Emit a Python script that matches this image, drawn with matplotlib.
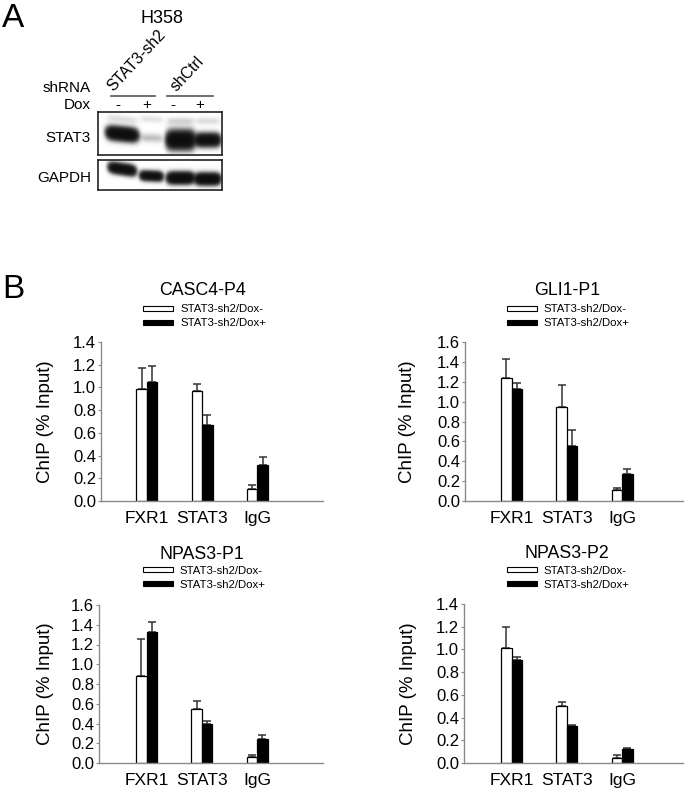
import numpy as np
import matplotlib
matplotlib.use('Agg')
import matplotlib.pyplot as plt
import matplotlib.transforms as mtransforms
from matplotlib.patches import Patch
from matplotlib.lines import Line2D

plt.rcParams['font.family'] = ['Liberation Sans', 'DejaVu Sans']

# ---------------- data ----------------
cell_line = 'H358'
shrna_groups = ['STAT3-sh2', 'shCtrl']
dox_states = ['-', '+', '-', '+']
blot_rows = ['STAT3', 'GAPDH']
stat3_band = [1.0, 0.06, 1.0, 0.85]
stat3_upper_band = [0.03, 0.025, 0.04, 0.03]
gapdh_band = [0.9, 0.8, 1.0, 1.0]

categories = ['FXR1', 'STAT3', 'IgG']
series_names = ['STAT3-sh2/Dox-', 'STAT3-sh2/Dox+']

casc4_minus = [0.99, 0.97, 0.105]
casc4_minus_err = [0.18, 0.06, 0.035]
casc4_plus = [1.05, 0.67, 0.32]
casc4_plus_err = [0.14, 0.09, 0.07]

gli1_minus = [1.24, 0.95, 0.114]
gli1_minus_err = [0.19, 0.22, 0.013]
gli1_plus = [1.13, 0.55, 0.27]
gli1_plus_err = [0.06, 0.16, 0.05]

npas3p1_minus = [0.876, 0.55, 0.06]
npas3p1_minus_err = [0.38, 0.08, 0.017]
npas3p1_plus = [1.33, 0.40, 0.24]
npas3p1_plus_err = [0.10, 0.03, 0.04]

npas3p2_minus = [1.01, 0.50, 0.04]
npas3p2_minus_err = [0.19, 0.04, 0.027]
npas3p2_plus = [0.91, 0.33, 0.126]
npas3p2_plus_err = [0.02, 0.005, 0.004]

# ---------------- figure ----------------
W, H = 690, 800
fig = plt.figure(figsize=(W / 100, H / 100), dpi=100)


def fx(x):
    return x / W


def fy(y):
    return 1 - y / H


def ax_px(x0, y0, x1, y1):
    return fig.add_axes([fx(x0), fy(y1), (x1 - x0) / W, (y1 - y0) / H])


# ---------------- panel A ----------------
fig.text(fx(13.5), fy(27), 'A', fontsize=24, ha='center', va='baseline')
fig.text(fx(162), fy(23), cell_line, fontsize=13, ha='center', va='baseline')
fig.text(fx(91), fy(92.3), 'shRNA', fontsize=11, ha='right', va='baseline')
fig.text(fx(91), fy(109.3), 'Dox', fontsize=11, ha='right', va='baseline')

group_spans = [(111, 155), (167, 213)]
group_label_pos = [(113, 92), (177, 92)]
for name, (a, b), (lx, ly) in zip(shrna_groups, group_spans, group_label_pos):
    fig.add_artist(Line2D([fx(a), fx(b)], [fy(95.7), fy(95.7)], transform=fig.transFigure,
                          color='#555555', lw=1.2))
    fig.text(fx(lx), fy(ly), name, fontsize=11.3, rotation=47, rotation_mode='anchor',
             ha='left', va='baseline')

sign_x = [118, 147, 173, 200]
for s, x in zip(dox_states, sign_x):
    fig.text(fx(x), fy(109.3), s, fontsize=11, ha='center', va='baseline')

lane_x = [122, 151, 180, 207]


def blot(box, bands, yc, hw, sig, tilt):
    x0, y0, x1, y1 = box
    ax = ax_px(x0, y0, x1, y1)
    xs = np.linspace(x0, x1, int((x1 - x0) * 4))
    ys = np.linspace(y0, y1, int((y1 - y0) * 4))
    X, Y = np.meshgrid(xs, ys)
    D = np.zeros_like(X)
    for band_set, ycs, sgs in zip(bands, yc, sig):
        for I, xc, y, w, s, t in zip(band_set, lane_x, ycs, hw, sgs, tilt):
            yy = y + t * (X - xc)
            horiz = np.exp(-np.abs((X - xc) / w) ** 5)
            vert = np.exp(-0.5 * ((Y - yy) / s) ** 2)
            D += I * horiz * vert
    img = 1 - np.exp(-5 * D)
    ax.imshow(img, cmap='gray_r', vmin=0, vmax=1.05, extent=(x0, x1, y1, y0),
              aspect='auto', interpolation='bilinear')
    ax.set_xlim(x0, x1)
    ax.set_ylim(y1, y0)
    ax.set_xticks([])
    ax.set_yticks([])
    for sp in ax.spines.values():
        sp.set_linewidth(1.2)
        sp.set_color('#222222')
    return ax


blot((98, 112, 222, 155),
     [stat3_band, stat3_upper_band],
     [[134, 138, 140, 140], [119, 119, 121, 121]],
     [15, 11, 13.5, 12],
     [[4.0, 3.0, 5.5, 4.0], [2.5, 2.5, 2.5, 2.5]],
     [0.1, 0.05, 0.0, 0.0])
blot((98, 160, 222, 190),
     [gapdh_band],
     [[169, 176, 178, 179]],
     [13, 11, 13, 12],
     [[3.3, 3.0, 3.5, 3.5]],
     [0.15, 0.05, 0.0, 0.0])

fig.text(fx(91), fy(141.7), blot_rows[0], fontsize=11, ha='right', va='baseline')
fig.text(fx(91), fy(181.7), blot_rows[1], fontsize=11, ha='right', va='baseline')

# ---------------- panel B ----------------
fig.text(fx(13), fy(298), 'B', fontsize=24, ha='center', va='baseline')

AX_GREY = '#8a8a8a'


def bar_panel(box, title, minus, minus_err, plus, plus_err, ymax, xlim,
              ylabel_x, title_y, legend_xy):
    x0, y0, x1, y1 = box
    ax = ax_px(*box)
    x = np.arange(len(categories))
    w = 0.19
    ax.bar(x - w / 2, minus, w, color='white', edgecolor='black', linewidth=0.9, zorder=2)
    ax.bar(x + w / 2, plus, w, color='black', edgecolor='black', linewidth=0.9, zorder=2)
    ax.errorbar(x - w / 2, minus, yerr=[np.zeros(len(minus)), minus_err], fmt='none',
                ecolor='#333333', elinewidth=1.1, capsize=2.6, capthick=1.1, zorder=1)
    ax.errorbar(x + w / 2, plus, yerr=[np.zeros(len(plus)), plus_err], fmt='none',
                ecolor='#333333', elinewidth=1.1, capsize=2.6, capthick=1.1, zorder=1)
    ax.set_xlim(*xlim)
    ax.set_ylim(0, ymax)
    ticks = np.round(np.arange(0, ymax + 0.001, 0.2), 1)
    ax.set_yticks(ticks)
    ax.set_yticklabels([f'{t:.1f}' for t in ticks])
    ax.set_xticks(x)
    ax.set_xticklabels(categories)
    for sp in ['top', 'right']:
        ax.spines[sp].set_visible(False)
    for sp in ['left', 'bottom']:
        ax.spines[sp].set_color(AX_GREY)
        ax.spines[sp].set_linewidth(1.0)
    ax.tick_params(axis='y', length=2.5, width=0.8, color=AX_GREY, labelsize=12, pad=1)
    ax.tick_params(axis='x', length=0, labelsize=12.5, pad=7)
    ax.set_ylabel('ChIP (% Input)', fontsize=13.5, va='center')
    ax.yaxis.set_label_coords((ylabel_x - x0) / (x1 - x0), 0.5)
    trans = mtransforms.blended_transform_factory(ax.transData, ax.transAxes)
    ax.text(1, (y1 - title_y) / (y1 - y0), title, transform=trans, ha='center',
            va='baseline', fontsize=12.8)
    handles = [Patch(facecolor='white', edgecolor='black', linewidth=0.8),
               Patch(facecolor='black', edgecolor='black', linewidth=0.8)]
    ax.legend(handles, series_names, loc='upper left',
              bbox_to_anchor=(fx(legend_xy[0]), fy(legend_xy[1])),
              bbox_transform=fig.transFigure, frameon=False, fontsize=8.2,
              handlelength=2.65, handleheight=0.3, handletextpad=0.6,
              labelspacing=0.35, borderpad=0, borderaxespad=0)
    return ax


bar_panel((101, 342, 323, 501), 'CASC4-P4', casc4_minus, casc4_minus_err,
          casc4_plus, casc4_plus_err, 1.4, (-0.83, 3.19), 45, 295, (143, 304.5))
bar_panel((465, 342, 683, 501), 'GLI1-P1', gli1_minus, gli1_minus_err,
          gli1_plus, gli1_plus_err, 1.6, (-0.845, 3.1), 408, 295, (506.7, 304.5))
bar_panel((99, 605, 323, 763), 'NPAS3-P1', npas3p1_minus, npas3p1_minus_err,
          npas3p1_plus, npas3p1_plus_err, 1.6, (-0.86, 3.19), 45, 559, (142.7, 566))
bar_panel((464, 604, 683, 763), 'NPAS3-P2', npas3p2_minus, npas3p2_minus_err,
          npas3p2_plus, npas3p2_plus_err, 1.4, (-0.86, 3.1), 408, 558, (506.7, 566))

fig.savefig('out.png', dpi=100)
